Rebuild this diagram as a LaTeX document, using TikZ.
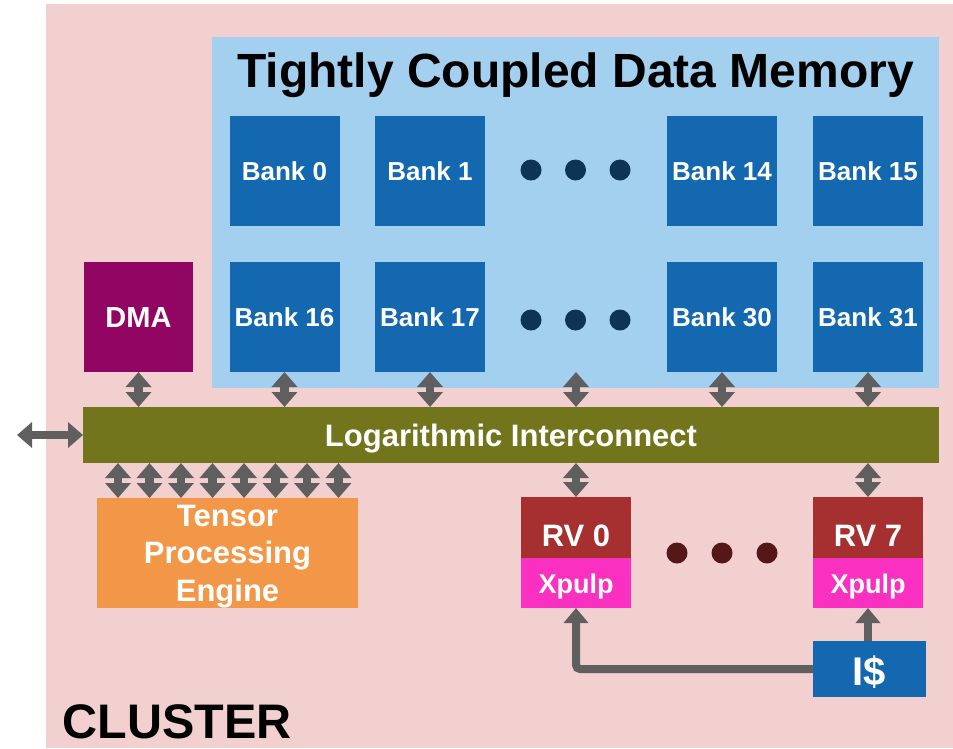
\documentclass[tikz,border=0pt]{standalone}
\usepackage{fontspec}
\setmainfont{Liberation Sans}
\usetikzlibrary{arrows.meta}
\definecolor{clusterbg}{RGB}{242,208,208}
\definecolor{tcdmbg}{RGB}{163,208,239}
\definecolor{bankblue}{RGB}{19,104,176}
\definecolor{navydot}{RGB}{14,52,84}
\definecolor{dmapurple}{RGB}{144,6,98}
\definecolor{icolive}{RGB}{114,117,28}
\definecolor{arrgray}{RGB}{95,95,95}
\definecolor{tpeorange}{RGB}{242,151,71}
\definecolor{rvred}{RGB}{166,47,47}
\definecolor{xpink}{RGB}{249,48,192}
\definecolor{rvdot}{RGB}{85,24,24}
\begin{document}
\begin{tikzpicture}[x=1pt,y=-1pt,
  blk/.style={inner sep=0pt, outer sep=0pt, text=white},
  bank/.style={blk, fill=bankblue, minimum width=110pt, minimum height=110pt,
    font=\bfseries\fontsize{26}{31}\selectfont, text height=18.6pt, text depth=0pt},
  dotnode/.style={circle, inner sep=0pt, outer sep=0pt, minimum size=21pt},
  dbl/.style={draw=arrgray, line width=8.5pt,
    {Triangle[width=25pt,length=15pt]}-{Triangle[width=25pt,length=15pt]}},
  one/.style={draw=arrgray, line width=8pt, -{Triangle[width=24pt,length=15pt]}},
  rv/.style={blk, fill=rvred, minimum width=110pt, minimum height=60.5pt,
    font=\bfseries\fontsize{31}{37}\selectfont, text height=38.5pt, text depth=0pt},
  xp/.style={blk, fill=xpink, minimum width=110pt, minimum height=50.5pt,
    font=\bfseries\fontsize{27}{32}\selectfont, text height=22pt, text depth=0pt}
]
\useasboundingbox (0,0) rectangle (953,748);
% cluster background
\node[inner sep=0pt, outer sep=0pt, fill=clusterbg, anchor=north west,
  minimum width=907pt, minimum height=744pt] (cluster) at (46,4) {};
\node[font=\bfseries\fontsize{48.5}{58}\selectfont, anchor=base west, inner sep=0pt]
  (clab) at (62.5,738) {CLUSTER};
% TCDM
\node[inner sep=0pt, outer sep=0pt, fill=tcdmbg, anchor=north west,
  minimum width=727pt, minimum height=351pt] (tcdm) at (212,37) {};
\node[font=\bfseries\fontsize{48}{58}\selectfont, anchor=base, inner sep=0pt]
  (title) at (575.5,87) {Tightly Coupled Data Memory};
\node[bank] (b0)  at (284.5,171) {Bank 0};
\node[bank] (b1)  at (430,171)   {Bank 1};
\node[bank] (b14) at (722,171)   {Bank 14};
\node[bank] (b15) at (868,171)   {Bank 15};
\node[bank] (b16) at (284.5,317) {Bank 16};
\node[bank] (b17) at (430,317)   {Bank 17};
\node[bank] (b30) at (722,317)   {Bank 30};
\node[bank] (b31) at (868,317)   {Bank 31};
\node[dotnode, fill=navydot] (td1) at (531,170) {};
\node[dotnode, fill=navydot] (td2) at (575.5,170) {};
\node[dotnode, fill=navydot] (td3) at (620,170) {};
\node[dotnode, fill=navydot] (td4) at (531,320) {};
\node[dotnode, fill=navydot] (td5) at (575.5,320) {};
\node[dotnode, fill=navydot] (td6) at (620,320) {};
% DMA
\node[blk, fill=dmapurple, minimum width=109pt, minimum height=110pt,
  font=\bfseries\fontsize{29}{35}\selectfont, text height=20.8pt, text depth=0pt]
  (dma) at (138.5,317) {DMA};
% interconnect
\node[blk, fill=icolive, minimum width=856pt, minimum height=56pt,
  font=\bfseries\fontsize{31}{37}\selectfont, text height=22.2pt, text depth=0pt]
  (ic) at (511,435) {Logarithmic Interconnect};
% TPE
\node[blk, fill=tpeorange, minimum width=261pt, minimum height=110pt, align=center,
  font=\bfseries\fontsize{31}{37.5}\selectfont, text depth=-4pt]
  (tpe) at (227.5,553) {Tensor\\Processing\\Engine};
% cores
\node[rv] (rv0) at (576,527.25) {RV 0};
\node[xp] (xp0) at (576,582.75) {Xpulp};
\node[rv] (rv7) at (868,527.25) {RV 7};
\node[xp] (xp7) at (868,582.75) {Xpulp};
\node[dotnode, fill=rvdot] (rd1) at (677,553) {};
\node[dotnode, fill=rvdot] (rd2) at (722,553) {};
\node[dotnode, fill=rvdot] (rd3) at (767,553) {};
% instruction cache
\node[blk, fill=bankblue, minimum width=113pt, minimum height=56pt,
  font=\bfseries\fontsize{40}{48}\selectfont, text height=32pt, text depth=0pt]
  (icache) at (869.5,669) {I\$};
% connectors
\coordinate (mid) at (576,372);
\coordinate (ext) at (17,435);
\foreach \n in {dma,b16,b17,b30,b31}
  \draw[dbl] (\n.south) -- (\n.south |- ic.north);
\draw[dbl] (mid) -- (mid |- ic.north);
\draw[dbl] (ext) -- (ic.west);
\foreach \i in {0,...,7}{
  \coordinate (t\i) at ({118+31.5*\i},498);
  \draw[dbl] (t\i |- ic.south) -- (t\i);
}
\draw[dbl] (rv0.north |- ic.south) -- (rv0.north);
\draw[dbl] (rv7.north |- ic.south) -- (rv7.north);
\draw[one] (xp7.south |- icache.north) -- (xp7.south);
\draw[one, rounded corners=4pt] (icache.west) -| (xp0.south);
\end{tikzpicture}
\end{document}
